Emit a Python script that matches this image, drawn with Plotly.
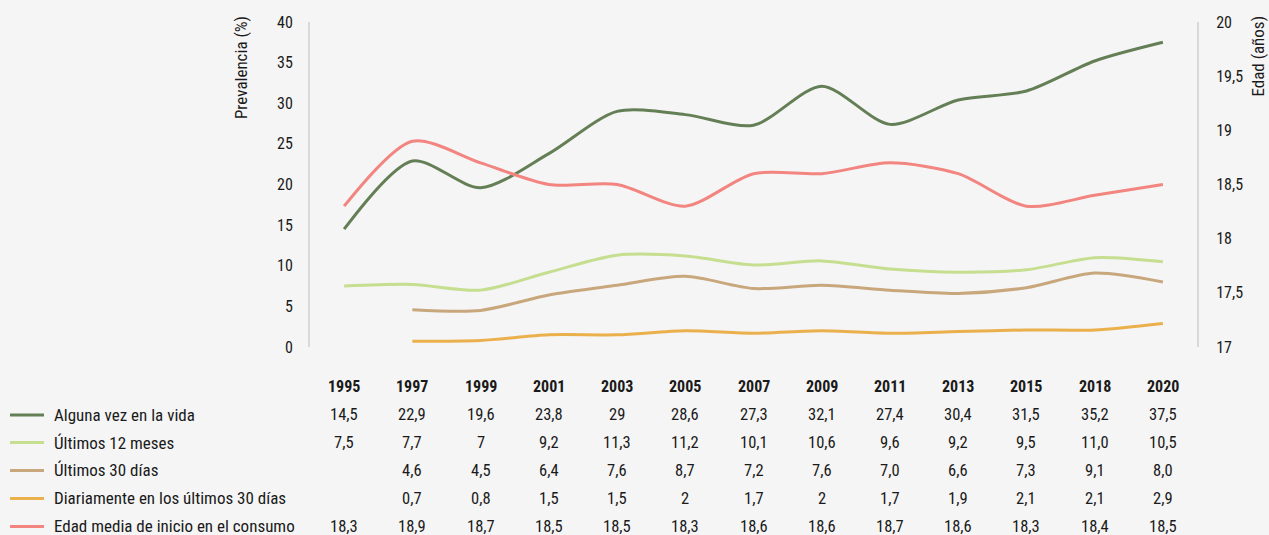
import plotly.graph_objects as go

years = ["1995", "1997", "1999", "2001", "2003", "2005", "2007", "2009", "2011", "2013", "2015", "2018", "2020"]

alguna_vez = [14.5, 22.9, 19.6, 23.8, 29, 28.6, 27.3, 32.1, 27.4, 30.4, 31.5, 35.2, 37.5]
ultimos_12 = [7.5, 7.7, 7, 9.2, 11.3, 11.2, 10.1, 10.6, 9.6, 9.2, 9.5, 11.0, 10.5]
ultimos_30 = [None, 4.6, 4.5, 6.4, 7.6, 8.7, 7.2, 7.6, 7.0, 6.6, 7.3, 9.1, 8.0]
diariamente = [None, 0.7, 0.8, 1.5, 1.5, 2, 1.7, 2, 1.7, 1.9, 2.1, 2.1, 2.9]
edad_media = [18.3, 18.9, 18.7, 18.5, 18.5, 18.3, 18.6, 18.6, 18.7, 18.6, 18.3, 18.4, 18.5]

# how each value is printed in the table under the chart
alguna_txt = ["14,5", "22,9", "19,6", "23,8", "29", "28,6", "27,3", "32,1", "27,4", "30,4", "31,5", "35,2", "37,5"]
ult12_txt = ["7,5", "7,7", "7", "9,2", "11,3", "11,2", "10,1", "10,6", "9,6", "9,2", "9,5", "11,0", "10,5"]
ult30_txt = ["", "4,6", "4,5", "6,4", "7,6", "8,7", "7,2", "7,6", "7,0", "6,6", "7,3", "9,1", "8,0"]
diario_txt = ["", "0,7", "0,8", "1,5", "1,5", "2", "1,7", "2", "1,7", "1,9", "2,1", "2,1", "2,9"]
edad_txt = ["18,3", "18,9", "18,7", "18,5", "18,5", "18,3", "18,6", "18,6", "18,7", "18,6", "18,3", "18,4", "18,5"]

FONT = "Roboto Condensed, Liberation Sans Narrow, Arial Narrow, Roboto, sans-serif"
TXT = "#1a1a1a"

series = [
    ("Alguna vez en la vida", alguna_vez, alguna_txt, "#647f55", "y"),
    ("Últimos 12 meses", ultimos_12, ult12_txt, "#c6de8f", "y"),
    ("Últimos 30 días", ultimos_30, ult30_txt, "#c9a77d", "y"),
    ("Diariamente en los últimos 30 días", diariamente, diario_txt, "#eab04c", "y"),
    ("Edad media de inicio en el consumo", edad_media, edad_txt, "#f28580", "y2"),
]

xs = list(range(len(years)))

fig = go.Figure()
for name, vals, _, color, axis in series:
    fig.add_trace(
        go.Scatter(
            x=xs,
            y=vals,
            mode="lines",
            name=name,
            yaxis=axis,
            line={"color": color, "width": 3, "shape": "spline", "smoothing": 0.8},
            connectgaps=False,
            showlegend=False,
        )
    )

# table below the plot: header row + one row per series (paper y)
header_y = -0.123
row_y = [-0.209, -0.294, -0.380, -0.466, -0.552]
key_x0, key_x1, label_x = -0.3382, -0.2999, -0.2909

annotations = []
shapes = []
for j, yr in enumerate(years):
    annotations.append(dict(
        x=j, y=header_y, xref="x", yref="paper", text=f"<b>{yr}</b>",
        yanchor="middle", showarrow=False, font={"size": 16, "color": TXT, "family": FONT},
    ))
for i, (name, _, txts, color, _) in enumerate(series):
    annotations.append(dict(
        x=label_x, y=row_y[i], xref="paper", yref="paper", text=name,
        xanchor="left", yanchor="middle", showarrow=False,
        font={"size": 17, "color": TXT, "family": FONT},
    ))
    shapes.append(dict(
        type="line", xref="paper", yref="paper", x0=key_x0, x1=key_x1, y0=row_y[i], y1=row_y[i],
        line={"color": color, "width": 3},
    ))
    for j, t in enumerate(txts):
        if not t:
            continue
        annotations.append(dict(
            x=j, y=row_y[i], xref="x", yref="paper", text=t,
            yanchor="middle", showarrow=False, font={"size": 16.5, "color": TXT, "family": FONT},
        ))

annotations.append(dict(
    x=-0.077, y=1.025, xref="paper", yref="paper", text="Prevalencia (%)", textangle=-90,
    showarrow=False, xanchor="center", yanchor="top", font={"size": 17, "color": TXT, "family": FONT},
))
annotations.append(dict(
    x=1.069, y=1.025, xref="paper", yref="paper", text="Edad (años)", textangle=-90,
    showarrow=False, xanchor="center", yanchor="top", font={"size": 17, "color": TXT, "family": FONT},
))

fig.update_layout(
    width=1269,
    height=535,
    paper_bgcolor="#f5f5f5",
    plot_bgcolor="#f5f5f5",
    margin={"l": 310, "r": 72, "t": 22, "b": 188},
    font={"family": FONT, "size": 16, "color": TXT},
    showlegend=False,
    xaxis={
        "range": [-0.5, len(years) - 0.5],
        "showticklabels": False,
        "showgrid": False,
        "zeroline": False,
        "showline": False,
        "fixedrange": True,
    },
    yaxis={
        "range": [0, 40],
        "dtick": 5,
        "showgrid": False,
        "zeroline": False,
        "showline": True,
        "linecolor": "#d9d9d9",
        "linewidth": 2,
        "ticks": "",
        "ticklabelstandoff": 12,
        "tickfont": {"size": 16},
    },
    yaxis2={
        "range": [17, 20],
        "dtick": 0.5,
        "overlaying": "y",
        "side": "right",
        "showgrid": False,
        "zeroline": False,
        "showline": True,
        "linecolor": "#d9d9d9",
        "linewidth": 2,
        "ticks": "",
        "ticklabelstandoff": 14,
        "tickfont": {"size": 16},
    },
    separators=",.",
    annotations=annotations,
    shapes=shapes,
)

fig.write_html(
    "out.html",
    config={"displayModeBar": False},
    post_script="document.body.style.margin='0';",
)
